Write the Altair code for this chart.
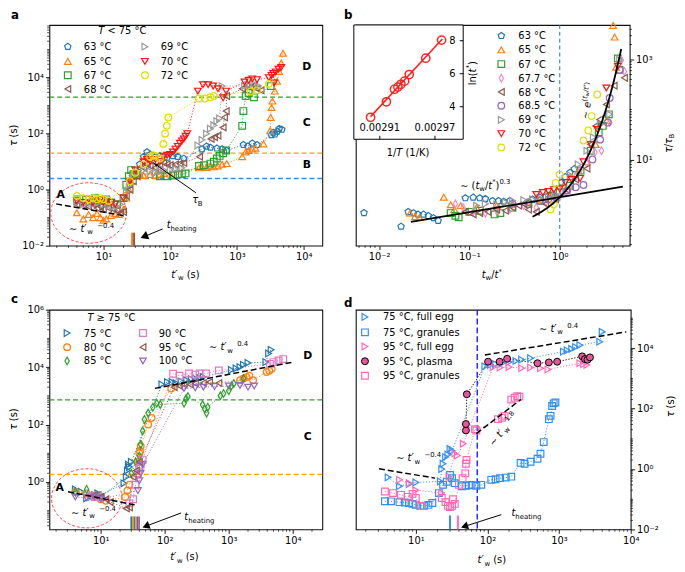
import math
import numpy as np
import pandas as pd
import altair as alt

FONT = "DejaVu Sans"

# ---------------- panel a : T < 75 C ----------------
a63_x = [25, 30, 35, 40, 45, 50, 60, 70, 90, 110, 130, 160, 300, 350, 400, 500, 600, 700, 1250, 1450, 1700, 2000, 3300, 3500, 3700, 4000, 4300, 4700]
a63_y = [1.5, 3, 8, 15, 22, 18, 15, 16, 14, 16, 15, 13, 28, 35, 32, 30, 28, 25, 40, 35, 45, 40, 90, 110, 95, 120, 150, 140]
a65_x = [4, 5, 6, 7, 8, 9, 10, 11, 13, 15, 17, 20, 22, 24, 26, 28, 30, 35, 40, 50, 60, 70, 80, 100, 270, 300, 350, 400, 450, 520, 600, 700, 1200, 1350, 1500, 1700, 1900, 2500, 3150, 3200, 3300, 3400, 3700, 4000, 4300, 4600, 4900]
a65_y = [0.15, 0.09, 0.13, 0.1, 0.14, 0.1, 0.08, 0.09, 0.12, 0.14, 0.13, 0.2, 0.5, 1.0, 2.0, 3.5, 4, 3.5, 3.2, 3.5, 3.2, 3.5, 3.8, 3.6, 6, 6.5, 6.2, 7, 6.5, 7, 8, 8.5, 15, 22, 25, 28, 30, 43, 128, 380, 850, 1450, 3300, 7400, 16600, 33000, 74000]
a67_x = [4, 5.5, 7.5, 9, 11, 13, 16, 20, 22, 24, 26, 28, 32, 70, 90, 110, 130, 150, 170, 270, 320, 400, 450, 500, 550, 620, 690, 1200, 1250, 1350, 1500, 1800, 3200]
a67_y = [0.45, 0.45, 0.5, 0.4, 0.45, 0.35, 0.3, 0.5, 1.5, 3, 5, 3.5, 4, 3, 3, 3.2, 3.5, 3.6, 3.8, 7, 7.5, 8.5, 10, 13, 16, 20, 25, 190, 640, 2200, 2800, 2000, 5000]
a68_x = [4, 5, 6, 7, 8, 9, 10, 12, 14, 16, 18, 20, 22, 25, 28, 32, 40, 45, 50, 60, 70, 80, 90, 100, 120, 140, 160, 275, 410, 460, 520, 620, 650, 690, 700, 1200, 1400, 1600, 1800, 2000, 2300]
a68_y = [0.3, 0.28, 0.25, 0.3, 0.22, 0.25, 0.2, 0.22, 0.2, 0.18, 0.15, 0.16, 0.6, 1, 2, 3, 6, 8, 7, 6, 8, 9, 8, 7.5, 8, 8.5, 9, 15, 65, 75, 85, 166, 380, 640, 2200, 4000, 5000, 4500, 5500, 4000, 3500]
a69_x = [4, 5, 6, 7, 8, 10, 12, 14, 16, 18, 22, 25, 28, 32, 40, 50, 60, 70, 80, 100, 120, 150, 260, 300, 350, 400, 450, 500, 550, 600, 1300, 1500, 1800, 2100]
a69_y = [0.35, 0.3, 0.35, 0.3, 0.35, 0.3, 0.28, 0.25, 0.25, 0.3, 0.8, 1.5, 3, 4, 5, 4.5, 4, 4.5, 5, 5, 5.5, 6, 38, 60, 100, 150, 200, 280, 350, 5000, 5000, 5500, 6000, 5000]
a70_x = [4, 5, 6, 7, 8, 9, 10, 11, 13, 15, 20, 25, 30, 40, 45, 50, 60, 70, 80, 90, 100, 110, 120, 130, 140, 150, 160, 170, 180, 260, 310, 370, 440, 520, 620, 690, 1300, 1500, 1700, 2000, 3000, 3300, 3500, 3600, 3800, 4200, 4600]
a70_y = [0.4, 0.35, 0.45, 0.35, 0.4, 0.45, 0.35, 0.4, 0.35, 0.3, 0.5, 2, 5, 10, 12, 10, 12, 10, 15, 17, 18, 22, 28, 35, 45, 55, 65, 80, 100, 3300, 5600, 5600, 5000, 4000, 1900, 3300, 7000, 8000, 9000, 8500, 10000, 12000, 14000, 6500, 16000, 20000, 23000]
a72_x = [4, 5, 6, 7, 8, 9, 10, 12, 25, 30, 40, 50, 55, 60, 70, 79, 84, 89, 94, 270, 330, 400, 450, 1600, 2000, 3000]
a72_y = [0.6, 0.5, 0.45, 0.5, 0.45, 0.5, 0.45, 0.4, 2, 4, 8, 15, 17, 16, 13, 43, 100, 190, 380, 1800, 1800, 2000, 2200, 3200, 3500, 6000]
a_levels = [2000, 20, 2.5]
a_fit_x = [1.96, 20.2]
a_fit_y = [0.31, 0.117]
a_heat_x1 = [26, 27.8]
a_heat_x2 = [27.8, 29.8]

# ---------------- panel b : rescaled ----------------
b63_x = [0.0068, 0.0175, 0.021, 0.024, 0.027, 0.031, 0.035, 0.04, 0.045, 0.09, 0.11, 0.13, 0.15, 0.18, 0.21, 0.24, 0.28, 0.5, 0.6, 0.7, 0.85, 1.05, 1.15, 1.3, 1.45]
b63_y = [0.86, 0.46, 0.9, 0.85, 0.8, 0.8, 0.75, 0.68, 0.6, 1.7, 1.75, 1.7, 1.65, 1.5, 1.5, 1.45, 1.5, 1.6, 1.75, 1.8, 2.0, 3.5, 4.5, 5.5, 6.5]
b65_x = [0.022, 0.025, 0.028, 0.052, 0.062, 0.068, 0.08, 0.12, 0.2, 0.3, 0.45, 0.6, 0.8, 1.1, 1.3, 1.6, 2.0, 2.5, 3.3, 3.9, 4.05, 4.2]
b65_y = [0.85, 0.72, 0.7, 1.76, 1.25, 1.0, 1.2, 1.1, 1.2, 1.3, 1.4, 1.6, 1.9, 3.0, 4.5, 6, 9, 20, 60, 4800, 2800, 700]
b67_x = [0.062, 0.07, 0.076, 0.1, 0.13, 0.19, 0.22, 0.3, 0.45, 0.6, 0.8, 1.0, 1.3, 1.7, 2.2, 2.7, 3.0, 3.5, 4.4, 4.6]
b67_y = [0.85, 0.75, 0.7, 0.9, 0.95, 0.8, 0.85, 1.1, 1.3, 1.5, 1.9, 2.2, 3.0, 6, 15, 35, 47, 80, 1050, 620]
b677_x = [0.07, 0.085, 0.11, 0.15, 0.2, 0.28, 0.4, 0.55, 0.7, 0.85, 1.0, 1.15, 1.3, 1.5, 1.68, 1.99, 2.45, 2.9, 3.57, 4.8, 5.2]
b677_y = [1.3, 1.1, 0.9, 0.85, 0.95, 1.0, 1.2, 1.1, 1.4, 1.5, 1.85, 2.2, 2.7, 4.5, 6.2, 8.4, 14, 15, 55, 970, 575]
b68_x = [0.09, 0.11, 0.13, 0.16, 0.2, 0.25, 0.3, 0.35, 0.4, 0.45, 0.55, 0.7, 0.9, 1.2, 1.5, 2.0, 2.2, 2.5, 2.77, 3.28, 4.0, 5.2]
b68_y = [0.9, 0.8, 0.85, 0.9, 1.0, 0.95, 1.1, 1.2, 1.3, 1.0, 0.9, 1.3, 1.6, 2.5, 4.0, 6.6, 20, 47, 63, 126, 300, 430]
b685_x = [0.3, 0.45, 0.6, 0.75, 0.9, 1.2, 1.5, 1.83, 2.3, 2.8, 3.4, 3.57, 4.6]
b685_y = [1.3, 1.4, 1.5, 1.6, 1.8, 2.4, 2.8, 3.1, 10, 25, 55, 170, 620]
b69_x = [0.12, 0.15, 0.2, 0.25, 0.3, 0.4, 0.5, 0.6, 0.75, 0.9, 1.1, 1.3, 1.6, 2.0, 2.35, 2.8, 3.57, 4.6]
b69_y = [1.2, 1.3, 1.25, 1.4, 1.5, 1.55, 1.6, 1.7, 1.8, 2.0, 2.3, 4.9, 8, 15, 28, 50, 80, 980]
b70_x = [0.55, 0.65, 0.75, 0.86, 1.0, 1.15, 1.35, 1.68, 1.83, 2.2, 2.6, 3.28, 4.4]
b70_y = [2.0, 2.2, 2.3, 2.5, 2.6, 3.5, 4.0, 4.2, 9, 20, 40, 270, 730]
b72_x = [0.79, 0.86, 0.9, 1.0, 1.83, 2.07, 2.25, 2.6]
b72_y = [1.0, 1.26, 3.4, 5.0, 24, 38, 74, 200]
b_pow_x = [0.0225, 5.0]
b_pow_y = [0.566, 2.87]
b_exp_amp = 1.77
b_exp_rate = 1.8
ins_x = [0.0029000, 0.0029172, 0.0029260, 0.0029297, 0.0029330, 0.0029370, 0.0029420, 0.0029600, 0.0029772]
ins_y = [3.36, 4.30, 5.06, 5.19, 5.36, 5.55, 5.95, 6.94, 8.04]
ins_fit_x = [0.0029, 0.002978]
ins_fit_y = [3.4, 8.1]

# ---------------- panel c : T >= 75 C ----------------
c75_x = [4, 5, 6, 7, 8, 9, 10, 23, 25, 26, 27, 28, 30, 90, 110, 130, 150, 180, 220, 260, 300, 350, 400, 1100, 1300, 1500, 1700, 2000, 3800, 4200, 4600]
c75_y = [0.55, 0.45, 0.27, 0.3, 0.35, 0.4, 0.35, 0.9, 1.5, 2.5, 4, 3.3, 5, 2500, 3000, 3000, 2800, 3200, 3500, 3800, 4000, 4200, 4500, 8000, 9000, 10000, 12000, 14000, 15000, 30000, 40000]
c80_x = [4, 6, 8, 10, 12, 24, 26, 28, 38, 40, 41, 42, 55, 62, 126, 1500, 1700, 1900, 2100, 2400, 3900, 4300, 4700]
c80_y = [0.45, 0.4, 0.3, 0.25, 0.22, 0.3, 0.5, 0.8, 5, 10, 12, 18, 100, 170, 1800, 3500, 4000, 4500, 5000, 3500, 6700, 7500, 8700]
c85_x = [4, 6, 8, 10, 30, 35, 40, 42, 45, 48, 55, 65, 75, 85, 200, 215, 230, 390, 420, 450, 470, 740, 830, 1000, 1100, 1200, 1700]
c85_y = [0.45, 0.55, 0.35, 0.3, 2, 5, 8, 20, 60, 150, 250, 400, 550, 500, 550, 800, 940, 490, 350, 250, 400, 1000, 1200, 1500, 2200, 2700, 4000]
c90_x = [7, 8, 9, 10, 28, 32, 35, 38, 40, 42, 45, 135, 170, 240, 300, 350, 440, 700, 4400, 5000, 6000, 7100]
c90_y = [0.32, 0.3, 0.35, 0.3, 0.18, 0.25, 0.8, 2, 3, 4, 6, 5900, 5000, 6000, 5500, 6000, 6000, 7700, 13000, 15000, 17000, 19000]
c95_x = [8, 10, 12, 14, 25, 28, 32, 36, 40, 140, 170, 200, 250, 300, 400, 500, 700]
c95_y = [0.35, 0.3, 0.25, 0.2, 0.12, 0.13, 1.5, 2.5, 5, 2000, 2200, 2500, 2500, 2700, 2800, 3000, 2800]
c100_x = [4, 6, 8, 10, 38, 40, 42, 45, 200, 300, 400, 600, 1000, 1500, 2000, 2500]
c100_y = [0.3, 0.28, 0.3, 0.25, 0.5, 1.1, 2, 4, 1800, 1900, 2000, 2100, 2200, 2300, 2000, 2200]
c_levels = [720, 1.83]
c_fitA_x = [3.07, 34.5]
c_fitA_y = [0.454, 0.158]
c_fitD_x = [70, 10000]
c_fitD_y = [1820, 14800]
c_heat_edges = [29, 31, 32.8, 34.8, 36.8, 39, 41]

# ---------------- panel d : egg fractions ----------------
d75e_x = [4.1, 5.9, 8.1, 10, 22, 23, 24, 26, 28, 30, 32, 92, 110, 130, 160, 200, 250, 300, 400, 1150, 1300, 1500, 1700, 1950, 3700, 4000]
d75e_y = [0.53, 0.27, 0.32, 0.36, 0.39, 1.0, 1.5, 2.5, 3, 4.7, 4, 2500, 2800, 3000, 3200, 3500, 3800, 4200, 4700, 7800, 8500, 9500, 11000, 12700, 16500, 35000]
d75g_x = [3.7, 4.5, 5.9, 7, 8, 9, 10, 11.5, 13, 15, 17, 21, 24, 27, 30, 32, 35, 44, 50, 55, 60, 70, 82, 113, 130, 150, 180, 215, 290, 330, 400, 500, 550, 610, 720, 760, 800, 840, 890]
d75g_y = [0.086, 0.085, 0.08, 0.078, 0.075, 0.07, 0.065, 0.06, 0.06, 0.065, 0.075, 0.16, 0.3, 0.38, 0.64, 0.5, 0.34, 0.27, 0.28, 0.29, 0.3, 0.28, 0.3, 0.44, 0.46, 0.5, 0.52, 0.56, 1.6, 1.5, 1.75, 2.2, 3.2, 7.8, 45, 58, 123, 150, 160]
d95e_x = [5.9, 8.1, 10, 23, 29, 35, 38, 46, 120, 150, 200, 300, 400, 550, 700, 1950, 2200, 2450]
d95e_y = [0.44, 0.34, 0.2, 0.16, 0.56, 3.3, 2.8, 6.9, 2400, 2300, 2400, 2200, 2300, 2200, 2000, 3200, 3000, 2800]
d95p_x = [50, 50, 51.5, 102, 148, 188, 500, 720, 940, 2100, 2300, 2500, 2700]
d95p_y = [19, 31, 300, 3600, 3600, 4500, 3200, 3400, 3600, 5400, 4400, 4200, 5000]
d95g_x = [3.7, 4.8, 6.2, 7.7, 9, 10, 11.7, 23, 26, 28, 30, 32, 33, 35, 40, 45, 49, 50, 51, 67, 70, 140, 160, 173, 215, 240, 260, 280]
d95g_y = [0.18, 0.16, 0.14, 0.12, 0.15, 0.11, 0.06, 0.11, 0.08, 0.06, 0.055, 0.06, 0.1, 0.07, 0.3, 0.5, 0.72, 1.5, 2.0, 21, 19, 45, 50, 58, 200, 230, 260, 250]
d_fit1_x = [3.06, 18.5]
d_fit1_y = [1.02, 0.5]
d_fit2_x = [92, 8700]
d_fit2_y = [6000, 35000]
d_fit3_x = [70, 295]
d_fit3_y = [15, 204]
d_vline = 72
d_heat_x = [30, 38.6]

# ---------------- styling ----------------
PENT = "M0,-1L0.951,-0.309L0.588,0.809L-0.588,0.809L-0.951,-0.309Z"
THIND = "M0,-1.15L0.65,0L0,1.15L-0.65,0Z"
CB = "#1f77b4"; CO = "#ff7f0e"; CG = "#2ca02c"; CBR = "#8c564b"; CGY = "#999999"
CR = "#ff1010"; CY = "#e0e000"; CPK = "#e377c2"; CPU = "#9467bd"; CLP = "#f28ad2"
DB = "#2f8ff0"; HP = "#ff69b4"; PLF = "#e5579a"

PA = (48, 23); WA, HA = 277, 224
PB = (359, 23); WB, HB = 278, 224
PC = (48, 312); WC, HC = 277, 223
PD = (359, 312); WD, HD = 279, 223
DUMMY = pd.DataFrame({"d": [0]})

CW = {" ": 0.318, ".": 0.318, ",": 0.318, "°": 0.5, "C": 0.698, "T": 0.611, "<": 0.838, "≥": 0.838,
      "∼": 0.838, "−": 0.838, "-": 0.361, "t": 0.392, "w": 0.818, "′": 0.3, "(": 0.39, ")": 0.39,
      "s": 0.521, "e": 0.615, "h": 0.634, "a": 0.613, "i": 0.278, "n": 0.634, "g": 0.635, "l": 0.278,
      "u": 0.634, "f": 0.352, "r": 0.411, "p": 0.635, "m": 0.974, "τ": 0.55, "/": 0.337, "*": 0.5,
      "B": 0.686, "K": 0.656, "A": 0.684, "D": 0.77, "b": 0.635, "c": 0.55, "d": 0.635}
for _d in "0123456789":
    CW[_d] = 0.636


def textw(t, fs):
    return sum(CW.get(c, 0.6) for c in t) * fs


KIND = {"n": (1.0, 0.0), "sub": (0.7, 0.25), "sup": (0.7, -0.42), "ss": (0.5, -0.28), "sps": (0.5, -0.62)}


def rich(store, org, x, y, pieces, size=10, angle=0.0, anchor="left", color="black", bold=False, base="alphabetic"):
    a = math.radians(angle)
    dx, dy = math.cos(a), math.sin(a)
    nx, ny = -math.sin(a), math.cos(a)
    widths = [textw(p[0], size * KIND[p[1]][0]) for p in pieces]
    total = sum(widths)
    s = {"left": 0.0, "center": -total / 2, "right": -total}[anchor]
    for (t, k, it), w in zip(pieces, widths):
        sc, off = KIND[k]
        fs = size * sc
        lead = len(t) - len(t.lstrip(" "))
        s0 = s + textw(" " * lead, fs)
        o = off * size
        store.append(dict(x=x + s0 * dx + o * nx - org[0], y=y + s0 * dy + o * ny - org[1],
                          text=t.strip(" "), fs=fs, it=bool(it), bd=bool(bold), bs=base,
                          ang=angle % 360, col=color))
        s += w


def text_layers(store):
    df = pd.DataFrame(store)
    out = []
    for (it, bd, bs), g in df.groupby(["it", "bd", "bs"]):
        g = g.drop(columns=["it", "bd", "bs"]).reset_index(drop=True)
        out.append(alt.Chart(g).mark_text(align="left", baseline=bs, font=FONT,
                                          fontStyle="italic" if it else "normal",
                                          fontWeight="bold" if bd else "normal").encode(
            x=alt.X("x:Q", scale=None, axis=None), y=alt.Y("y:Q", scale=None, axis=None),
            text="text:N", size=alt.Size("fs:Q", scale=None, legend=None),
            angle=alt.Angle("ang:Q", scale=None, legend=None),
            color=alt.Color("col:N", scale=None, legend=None)))
    return out


SUP = str.maketrans("-0123456789", "⁻⁰¹²³⁴⁵⁶⁷⁸⁹")


def lab_expr(values):
    e = "''"
    for v in values:
        k = int(round(math.log10(v)))
        e = f"round(log(datum.value)/LN10)=={k} ? '10{str(k).translate(SUP)}' : " + e
    return e


def log_axis(values, orient):
    return alt.Axis(values=values, labelExpr=lab_expr(values), title=None, orient=orient,
                    labelFlush=False, labelOverlap=False)


def minors(lo, hi, majors):
    out = []
    for n in range(math.floor(math.log10(lo)) - 1, math.ceil(math.log10(hi)) + 1):
        for k in range(1, 10):
            v = k * 10.0 ** n
            if lo * 1.0001 <= v <= hi / 1.0001 and not any(abs(math.log10(v) - math.log10(m)) < 1e-6 for m in majors):
                out.append(v)
    return out


class Ax:
    """scales and (shared) axes of one panel"""
    def __init__(self, xdom, ydom, xmaj, ymaj, yorient, W, H):
        self.xdom, self.ydom, self.xmaj, self.ymaj, self.yorient, self.W, self.H = xdom, ydom, xmaj, ymaj, yorient, W, H
        self.xs = alt.Scale(type="log", domain=xdom, nice=False)
        self.ys = alt.Scale(type="log", domain=ydom, nice=False)
        self.xa = log_axis(xmaj, "bottom")
        self.ya = log_axis(ymaj, yorient)

    def X(self, f):
        return alt.X(f, scale=self.xs, axis=self.xa)

    def Y(self, f):
        return alt.Y(f, scale=self.ys, axis=self.ya)


def minor_layers(A):
    xm = pd.DataFrame({"v": minors(A.xdom[0], A.xdom[1], A.xmaj)})
    ym = pd.DataFrame({"v": minors(A.ydom[0], A.ydom[1], A.ymaj)})
    l1 = alt.Chart(xm).mark_rule(color="black", strokeWidth=0.7).encode(
        x=A.X("v:Q"), y=alt.value(A.H), y2=alt.value(A.H + 2.3))
    x0, x1 = (0, -2.3) if A.yorient == "left" else (A.W, A.W + 2.3)
    l2 = alt.Chart(ym).mark_rule(color="black", strokeWidth=0.7).encode(
        y=A.Y("v:Q"), x=alt.value(x0), x2=alt.value(x1))
    return [l1, l2]


def series_df(series):
    rows = []
    for sid, (lab, shp, col, xs, ys) in enumerate(series):
        for i, (x, y) in enumerate(zip(xs, ys)):
            rows.append(dict(x=x, y=y, s=sid, shape=shp, color=col, i=i))
    return pd.DataFrame(rows)


def point_layer(df, A, size=46):
    return alt.Chart(df).mark_point(filled=False, size=size, strokeWidth=1.2, opacity=1).encode(
        x=A.X("x:Q"), y=A.Y("y:Q"),
        color=alt.Color("color:N", scale=None), shape=alt.Shape("shape:N", scale=None))


def conn_layer(df, A):
    return alt.Chart(df).mark_line(strokeDash=[1.2, 1.8], strokeWidth=1, opacity=0.9).encode(
        x=A.X("x:Q"), y=A.Y("y:Q"),
        color=alt.Color("color:N", scale=None), detail="s:N", order="i:Q")


def fit_layer(fits, A, color="black", dash=(6, 3), width=1.5):
    rows = []
    for f, (fx, fy) in enumerate(fits):
        for i, (x, y) in enumerate(zip(fx, fy)):
            rows.append(dict(x=x, y=y, f=f, i=i))
    mk = dict(color=color, strokeWidth=width)
    if dash:
        mk["strokeDash"] = list(dash)
    return alt.Chart(pd.DataFrame(rows)).mark_line(**mk).encode(
        x=A.X("x:Q"), y=A.Y("y:Q"), detail="f:N", order="i:Q")


def hline_layer(vals, cols, A):
    df = pd.DataFrame({"v": vals, "c": cols})
    return alt.Chart(df).mark_rule(strokeDash=[5, 3], strokeWidth=1.3).encode(
        y=A.Y("v:Q"), color=alt.Color("c:N", scale=None))


def ellipse_layer(cxl, cyl, a, b, A):
    t = np.linspace(0, 2 * np.pi, 121)
    df = pd.DataFrame({"x": 10 ** (cxl + a * np.cos(t)), "y": 10 ** (cyl + b * np.sin(t)), "i": np.arange(121)})
    return alt.Chart(df).mark_line(color="#ff4040", strokeDash=[3, 2], strokeWidth=1).encode(
        x=A.X("x:Q"), y=A.Y("y:Q"), order="i:Q")


def arrow(org, tail, tip, hsize=50, shape="triangle-up", hl=7):
    tx, ty = tail
    px, py = tip
    dx, dy = px - tx, py - ty
    L = math.hypot(dx, dy)
    ux, uy = dx / L, dy / L
    cx, cy = px - ux * hl * 0.5, py - uy * hl * 0.5
    rot = (math.degrees(math.atan2(dy, dx)) + 90) % 360
    line = alt.Chart(DUMMY).mark_rule(color="black", strokeWidth=1).encode(
        x=alt.value(tx - org[0]), y=alt.value(ty - org[1]), x2=alt.value(cx - org[0]), y2=alt.value(cy - org[1]))
    head = alt.Chart(DUMMY).mark_point(shape=shape, filled=True, color="black", size=hsize, opacity=1).encode(
        x=alt.value(cx - org[0]), y=alt.value(cy - org[1]), angle=alt.value(rot))
    return [line, head]


def legend_layer(org, items, size=46):
    df = pd.DataFrame([dict(x=px - org[0], y=py - org[1], shape=s, color=c) for px, py, s, c in items])
    return alt.Chart(df).mark_point(filled=False, size=size, strokeWidth=1.2, opacity=1).encode(
        x=alt.X("x:Q", scale=None, axis=None), y=alt.Y("y:Q", scale=None, axis=None),
        shape=alt.Shape("shape:N", scale=None), color=alt.Color("color:N", scale=None))


def tw():
    return [("t′", "n", True), ("w", "sub", False)]


def law(exp):
    return [("∼ ", "n", False)] + tw() + [("  " + exp, "sup", False)]


def theat():
    return [("t", "n", True), ("heating", "sub", False)]


# ================= PANEL A =================
AA = Ax([1.55, 19000], [0.01, 7.6e5], [10, 100, 1000, 10000], [0.01, 1, 100, 10000], "left", WA, HA)
A_SERIES = [("63 °C", PENT, CB, a63_x, a63_y), ("65 °C", "triangle-up", CO, a65_x, a65_y),
            ("67 °C", "square", CG, a67_x, a67_y), ("68 °C", "triangle-left", CBR, a68_x, a68_y),
            ("69 °C", "triangle-right", CGY, a69_x, a69_y), ("70 °C", "triangle-down", CR, a70_x, a70_y),
            ("72 °C", "circle", CY, a72_x, a72_y)]
dfA = series_df(A_SERIES)
stA = []
layA = [hline_layer(a_levels, [CG, "#ffa000", "#3a8ee0"], AA)]
layA += minor_layers(AA)
layA.append(conn_layer(dfA, AA))
layA.append(ellipse_layer(0.778, -0.834, 0.567, 1.08, AA))
layA.append(point_layer(dfA, AA))
layA.append(fit_layer([(a_fit_x, a_fit_y)], AA))
heatA = pd.DataFrame({"x1": a_heat_x1, "x2": a_heat_x2, "y1": [0.01, 0.01], "y2": [0.029, 0.029], "c": [CO, CBR]})
layA.append(alt.Chart(heatA).mark_rect().encode(x=AA.X("x1:Q"), x2="x2:Q", y=AA.Y("y1:Q"), y2="y2:Q",
                                                 color=alt.Color("c:N", scale=None)))
layA += arrow(PA, (163, 230), (140, 239.5), hsize=80, hl=9)
layA += arrow(PA, (196.7, 193.3), (151.7, 161.7), hsize=40, shape="M0,-1L0.45,1L-0.45,1Z", hl=8)
rich(stA, PA, 9, 8, [("a", "n", False)], size=12, bold=True, base="top")
rich(stA, PA, 59, 199, [("A", "n", False)], size=11, anchor="center", bold=True)
rich(stA, PA, 309, 69, [("D", "n", False)], size=11, anchor="center", bold=True)
rich(stA, PA, 309, 125.5, [("C", "n", False)], size=11, anchor="center", bold=True)
rich(stA, PA, 309, 168, [("B", "n", False)], size=11, anchor="center", bold=True)
rich(stA, PA, 122, 32.5, [("T", "n", True), (" < 75 °C", "n", False)], anchor="center")
legA = []
for (lab, shp, col, _, _), (mx, tx, ry) in zip(A_SERIES, [(66.7, 83, 45), (66.7, 83, 60), (66.7, 83, 74), (66.7, 83, 88),
                                                          (145, 161, 45), (145, 161, 60), (145, 161, 74)]):
    legA.append((mx, ry, shp, col))
    rich(stA, PA, tx, ry + 3.6, [(lab, "n", False)])
rich(stA, PA, 68, 233, law("−0.4"))
rich(stA, PA, 167, 229.5, theat())
rich(stA, PA, 193, 204, [("τ", "n", True), ("B", "sub", False)])
rich(stA, PA, 15.5, 135, [("τ", "n", True), (" (s)", "n", False)], angle=-90, anchor="center")
rich(stA, PA, 186, 279.5, tw() + [(" (s)", "n", False)], anchor="center")
layA.append(legend_layer(PA, legA))
layA += text_layers(stA)
panelA = alt.layer(*layA).properties(width=WA, height=HA)

# ================= PANEL B =================
AB = Ax([0.00552, 5.95], [0.19, 4900], [0.01, 0.1, 1], [10, 1000], "right", WB, HB)
B_SERIES = [("63 °C", PENT, CB, b63_x, b63_y), ("65 °C", "triangle-up", CO, b65_x, b65_y),
            ("67 °C", "square", CG, b67_x, b67_y), ("67.7 °C", THIND, CLP, b677_x, b677_y),
            ("68 °C", "triangle-left", CBR, b68_x, b68_y), ("68.5 °C", "circle", CPU, b685_x, b685_y),
            ("69 °C", "triangle-right", CGY, b69_x, b69_y), ("70 °C", "triangle-down", CR, b70_x, b70_y),
            ("72 °C", "circle", CY, b72_x, b72_y)]
dfB = series_df(B_SERIES)
stB = []
layB = minor_layers(AB)
layB.append(alt.Chart(pd.DataFrame({"v": [1.0]})).mark_rule(color=CB, strokeDash=[4, 3], strokeWidth=1).encode(
    x=AB.X("v:Q")))
layB.append(point_layer(dfB, AB))
ex = np.linspace(0.5, 4.79, 60)
layB.append(fit_layer([(b_pow_x, b_pow_y), (list(ex), list(b_exp_amp * np.exp(b_exp_rate * (ex - 1))))],
                      AB, dash=None, width=1.8))
layB.append(alt.Chart(DUMMY).mark_rect(fill="white", stroke="black", strokeWidth=1).encode(
    x=alt.value(-2), x2=alt.value(109), y=alt.value(0), y2=alt.value(116)))
legB = []
rowsB = [34, 48.3, 62.7, 77, 91, 105, 119.3, 133.3, 147.3]
for (lab, shp, col, _, _), ry in zip(B_SERIES, rowsB):
    legB.append((506.7, ry, shp, col))
    rich(stB, PB, 524, ry + 3.6, [(lab, "n", False)])
rich(stB, PB, 347, 8, [("b", "n", False)], size=12, bold=True, base="top")
rich(stB, PB, 465, 189, [("∼ (", "n", False), ("t", "n", True), ("w", "sub", False), ("/", "n", False),
                         ("t", "n", True), ("*", "sup", False), (")", "n", False), ("0.3", "sup", False)])
rich(stB, PB, 595, 119, [("∼ ", "n", False), ("e", "n", True), ("(", "sup", False), ("t", "sup", True),
                         ("w", "ss", False), ("/", "sup", False), ("t", "sup", True), ("*", "sps", False),
                         (")", "sup", False)], angle=-82)
rich(stB, PB, 497, 279.5, [("t", "n", True), ("w", "sub", False), ("/", "n", False), ("t", "n", True),
                           ("*", "sup", False)], anchor="center")
rich(stB, PB, 679.5, 143, [("τ", "n", True), ("/", "n", False), ("τ", "n", True), ("B", "sub", False)],
     angle=-90, anchor="center")
rich(stB, PB, 480.5, 72, [("ln(", "n", False), ("t", "n", True), ("*", "sup", False), (")", "n", False)],
     angle=-90, anchor="center")
rich(stB, PB, 412, 155.5, [("1/", "n", False), ("T", "n", True), (" (1/K)", "n", False)], anchor="center")
layB.append(legend_layer(PB, legB))
layB += text_layers(stB)
mainB = alt.layer(*layB)

isx = alt.Scale(domain=[0.0028818, 0.0030007], range=[-2, 109], nice=False, zero=False)
isy = alt.Scale(domain=[2.03, 8.955], range=[116, 0], nice=False, zero=False)
insdf = pd.DataFrame({"x": ins_x, "y": ins_y})
inslay = [
    alt.Chart(pd.DataFrame({"x": ins_fit_x, "y": ins_fit_y})).mark_line(color="#ff2020", strokeWidth=1.6).encode(
        x=alt.X("x:Q", scale=isx, axis=None), y=alt.Y("y:Q", scale=isy, axis=None)),
    alt.Chart(insdf).mark_point(shape="circle", filled=False, color="#ff2020", size=70, strokeWidth=1.5, opacity=1).encode(
        x=alt.X("x:Q", scale=isx, axis=None), y=alt.Y("y:Q", scale=isy, axis=None)),
    alt.Chart(pd.DataFrame({"v": [0.00291, 0.00297]})).mark_rule(color="black").encode(
        x=alt.X("v:Q", scale=isx, axis=None), y=alt.value(116), y2=alt.value(112.5)),
    alt.Chart(pd.DataFrame({"v": [4, 6, 8]})).mark_rule(color="black").encode(
        y=alt.Y("v:Q", scale=isy, axis=None), x=alt.value(109), x2=alt.value(105.5)),
    alt.Chart(pd.DataFrame({"v": [0.00291, 0.00297], "t": ["0.00291", "0.00297"]})).mark_text(
        font=FONT, fontSize=10, align="center", baseline="alphabetic").encode(
        x=alt.X("v:Q", scale=isx, axis=None), y=alt.value(107.5), text="t:N"),
    alt.Chart(pd.DataFrame({"v": [4, 6, 8], "t": ["4", "6", "8"]})).mark_text(
        font=FONT, fontSize=10, align="center", baseline="middle").encode(
        y=alt.Y("v:Q", scale=isy, axis=None), x=alt.value(98), text="t:N"),
]
insetB = alt.layer(*inslay)
panelB = alt.layer(mainB, insetB).resolve_scale(x="independent", y="independent").properties(width=WB, height=HB)

# ================= PANEL C =================
AC = Ax([1.57, 29000], [0.0222, 1e6], [10, 100, 1000, 10000], [1, 100, 1e4, 1e6], "left", WC, HC)
C_SERIES = [("75 °C", "triangle-right", CB, c75_x, c75_y), ("80 °C", "circle", CO, c80_x, c80_y),
            ("85 °C", THIND, CG, c85_x, c85_y), ("90 °C", "square", CPK, c90_x, c90_y),
            ("95 °C", "triangle-left", CBR, c95_x, c95_y), ("100 °C", "triangle-down", CPU, c100_x, c100_y)]
dfC = series_df(C_SERIES)
stC = []
layC = [hline_layer(c_levels, [CG, "#ffa000"], AC)]
layC += minor_layers(AC)
layC.append(conn_layer(dfC, AC))
layC.append(ellipse_layer(0.78, -0.57, 0.55, 1.03, AC))
layC.append(point_layer(dfC, AC))
layC.append(fit_layer([(c_fitA_x, c_fitA_y), (c_fitD_x, c_fitD_y)], AC))
heatC = pd.DataFrame({"x1": c_heat_edges[:-1], "x2": c_heat_edges[1:], "y1": [0.0222] * 6, "y2": [0.063] * 6,
                      "c": [CB, CO, CG, CPK, CBR, CPU]})
layC.append(alt.Chart(heatC).mark_rect().encode(x=AC.X("x1:Q"), x2="x2:Q", y=AC.Y("y1:Q"), y2="y2:Q",
                                                 color=alt.Color("c:N", scale=None)))
layC += arrow(PC, (181.7, 518.3), (141.7, 533.3), hsize=70, hl=9)
rich(stC, PC, 9, 305, [("c", "n", False)], size=12, bold=True)
rich(stC, PC, 58, 496, [("A", "n", False)], size=11, anchor="center", bold=True)
rich(stC, PC, 310, 362, [("D", "n", False)], size=11, anchor="center", bold=True)
rich(stC, PC, 310, 444, [("C", "n", False)], size=11, anchor="center", bold=True)
rich(stC, PC, 111, 323.5, [("T", "n", True), (" ≥ 75 °C", "n", False)], anchor="center")
legC = []
for (lab, shp, col, _, _), (mx, tx, ry) in zip(C_SERIES, [(66, 83, 335.7), (66, 83, 350), (66, 83, 364),
                                                          (143, 159, 335.7), (143, 159, 350), (143, 159, 364)]):
    legC.append((mx, ry, shp, col))
    rich(stC, PC, tx, ry + 3.6, [(lab, "n", False)])
rich(stC, PC, 210, 353, law("0.4"))
rich(stC, PC, 70, 521, law("−0.4"))
rich(stC, PC, 185, 525.5, theat())
rich(stC, PC, 15.5, 423, [("τ", "n", True), (" (s)", "n", False)], angle=-90, anchor="center")
rich(stC, PC, 185, 566.5, tw() + [(" (s)", "n", False)], anchor="center")
layC.append(legend_layer(PC, legC))
layC += text_layers(stC)
panelC = alt.layer(*layC).properties(width=WC, height=HC)

# ================= PANEL D =================
AD = Ax([1.45, 10000], [0.01, 1.9e5], [10, 100, 1000, 10000], [0.01, 1, 100, 10000], "right", WD, HD)
D_SERIES = [("75  °C, full egg", "triangle-right", DB, d75e_x, d75e_y),
            ("75 °C, granules", "square", DB, d75g_x, d75g_y),
            ("95 °C, full egg", "triangle-right", HP, d95e_x, d95e_y),
            ("95 °C, granules", "square", HP, d95g_x, d95g_y)]
dfD = series_df(D_SERIES)
dfP = pd.DataFrame({"x": d95p_x, "y": d95p_y, "i": range(len(d95p_x))})
stD = []
layD = minor_layers(AD)
layD.append(alt.Chart(pd.DataFrame({"v": [d_vline]})).mark_rule(color="#2a2aff", strokeDash=[6, 3], strokeWidth=1.5).encode(
    x=AD.X("v:Q")))
layD.append(conn_layer(dfD, AD))
layD.append(alt.Chart(dfP).mark_line(strokeDash=[1.2, 1.8], strokeWidth=1, color="black").encode(
    x=AD.X("x:Q"), y=AD.Y("y:Q"), order="i:Q"))
layD.append(point_layer(dfD, AD))
layD.append(alt.Chart(dfP).mark_point(shape="circle", filled=True, fill=PLF, stroke="black", strokeWidth=1,
                                      size=50, opacity=1).encode(x=AD.X("x:Q"), y=AD.Y("y:Q")))
layD.append(fit_layer([(d_fit1_x, d_fit1_y), (d_fit2_x, d_fit2_y), (d_fit3_x, d_fit3_y)], AD))
heatD = pd.DataFrame({"x": d_heat_x, "y1": [0.01, 0.01], "y2": [0.029, 0.029], "c": [DB, HP]})
layD.append(alt.Chart(heatD).mark_rule(strokeWidth=2).encode(x=AD.X("x:Q"), y=AD.Y("y1:Q"), y2="y2:Q",
                                                            color=alt.Color("c:N", scale=None)))
layD += arrow(PD, (506.7, 520), (465, 533.3), hsize=70, hl=9)
rich(stD, PD, 347, 309, [("d", "n", False)], size=12, bold=True)
rowsD = [319.3, 335, 349.3, 364.3, 379]
labsD = ["75  °C, full egg", "75 °C, granules", "95 °C, full egg", "95 °C, plasma", "95 °C, granules"]
for lab, ry in zip(labsD, rowsD):
    rich(stD, PD, 386.7, ry + 3.6, [(lab, "n", False)])
legD = [(368.3, rowsD[0], "triangle-right", DB), (368.3, rowsD[1], "square", DB),
        (368.3, rowsD[2], "triangle-right", HP), (368.3, rowsD[4], "square", HP)]
rich(stD, PD, 545, 334.5, law("0.4"))
rich(stD, PD, 400, 466, law("−0.4"))
rich(stD, PD, 499, 451, law("1.8"), angle=-52)
rich(stD, PD, 517, 521.5, theat())
rich(stD, PD, 681.5, 410, [("τ", "n", True), (" (s)", "n", False)], angle=-90, anchor="center")
rich(stD, PD, 497, 569.5, tw() + [(" (s)", "n", False)], anchor="center")
layD.append(legend_layer(PD, legD))
layD.append(alt.Chart(pd.DataFrame({"x": [368.3 - PD[0]], "y": [rowsD[3] - PD[1]]})).mark_point(
    shape="circle", filled=True, fill=PLF, stroke="black", strokeWidth=1, size=50, opacity=1).encode(
    x=alt.X("x:Q", scale=None, axis=None), y=alt.Y("y:Q", scale=None, axis=None)))
layD += text_layers(stD)
panelD = alt.layer(*layD).properties(width=WD, height=HD)

chart = alt.concat(panelA, panelB, panelC, panelD, columns=2, bounds="flush",
                   spacing={"row": 65, "column": 34})
chart = chart.properties(padding={"left": 0, "top": -4, "right": 0, "bottom": 0})
chart = chart.configure_view(stroke="#111111", strokeWidth=1.1).configure_axis(
    domain=False, grid=False, tickColor="black", tickSize=4, tickWidth=0.9, labelColor="black",
    labelFont=FONT, labelFontSize=10, labelPadding=2)
chart.save("out.html", embed_options={"renderer": "svg", "actions": False})
